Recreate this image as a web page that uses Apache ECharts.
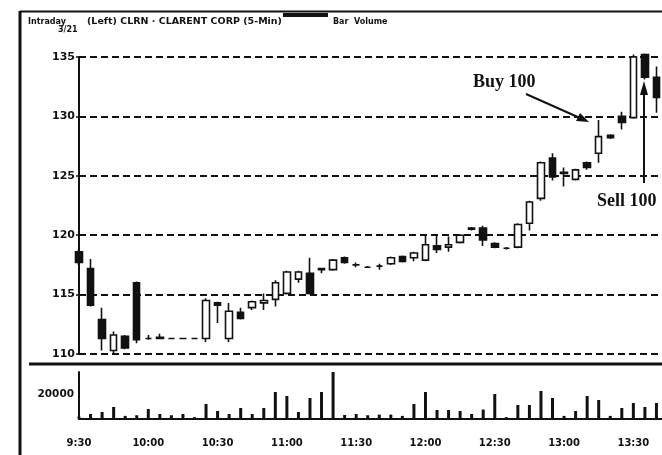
<!DOCTYPE html>
<html>
<head>
<meta charset="utf-8">
<script src="https://cdn.jsdelivr.net/npm/echarts@6/dist/echarts.min.js"></script>
<style>
  html, body { margin: 0; padding: 0; background: #fff; overflow: hidden; }
  /* a little wider than the window: the original is cropped on the right */
  #chart { width: 668px; height: 455px; }
</style>
</head>
<body>
<div id="chart"></div>
<script>
// 5-minute bars, 3/21
const times = ['9:30', '9:35', '9:40', '9:45', '9:50', '9:55',
  '10:00', '10:05', '10:10', '10:15', '10:20', '10:25',
  '10:30', '10:35', '10:40', '10:45', '10:50', '10:55',
  '11:00', '11:05', '11:10', '11:15', '11:20', '11:25',
  '11:30', '11:35', '11:40', '11:45', '11:50', '11:55',
  '12:00', '12:05', '12:10', '12:15', '12:20', '12:25',
  '12:30', '12:35', '12:40', '12:45', '12:50', '12:55',
  '13:00', '13:05', '13:10', '13:15', '13:20', '13:25',
  '13:30', '13:35', '13:40', '13:45'];

const opens = [118.6, 117.2, 112.9, 110.3, 111.5, 116.0, 111.3, 111.4, 111.3, 111.3, 111.3,
  111.3, 114.3, 111.3, 113.5, 113.9, 114.3, 114.6, 115.1, 116.3, 116.8,
  117.2, 117.1, 118.1, 117.5, 117.3, 117.4, 117.6, 118.2, 118.1, 117.9,
  119.1, 119.0, 119.4, 120.5, 120.6, 119.3, 118.9, 119.0, 121.0, 123.1,
  126.5, 125.2, 124.7, 126.1, 126.9, 128.4, 130.0, 129.9, 135.2, 133.3];
const closes = [117.7, 114.1, 111.3, 111.6, 110.5, 111.2, 111.3, 111.3, 111.3, 111.3, 111.3,
  114.5, 114.1, 113.6, 113.0, 114.4, 114.5, 116.0, 116.9, 116.9, 115.1,
  117.1, 117.9, 117.7, 117.5, 117.3, 117.4, 118.1, 117.8, 118.5, 119.2,
  118.8, 119.2, 120.0, 120.6, 119.6, 119.0, 118.9, 120.9, 122.8, 126.1,
  124.9, 125.3, 125.5, 125.7, 128.3, 128.2, 129.5, 135.0, 133.3, 131.6];
const lows = [117.5, 114.0, 110.3, 110.0, 110.4, 110.9, 111.2, 111.3, 111.3, 111.3, 111.3,
  111.0, 112.6, 111.0, 112.9, 113.7, 113.7, 114.0, 115.0, 116.0, 115.0,
  116.8, 117.0, 117.6, 117.3, 117.3, 117.1, 117.5, 117.7, 117.8, 117.8,
  118.5, 118.6, 119.3, 120.4, 119.1, 118.9, 118.8, 118.9, 120.4, 122.9,
  124.6, 124.1, 124.6, 125.5, 126.1, 128.1, 128.9, 129.8, 133.1, 130.3];
const highs = [118.8, 118.0, 113.9, 111.9, 111.6, 116.1, 111.6, 111.7, 111.3, 111.3, 111.3,
  114.7, 114.4, 114.3, 113.9, 114.5, 115.1, 116.2, 117.0, 117.0, 118.1,
  117.2, 118.0, 118.2, 117.7, 117.4, 117.6, 118.2, 118.3, 118.6, 120.1,
  120.1, 119.9, 120.1, 120.7, 120.8, 119.4, 119.0, 121.0, 122.9, 126.2,
  126.9, 125.7, 125.6, 126.2, 129.7, 128.5, 130.4, 135.2, 135.3, 134.2];

const volumes = [2000, 4000, 5600, 9600, 2500, 3000, 8000, 4000, 3000, 4000, 1500,
  12000, 6400, 4000, 8800, 4000, 8800, 21600, 18400, 5600, 16800,
  21600, 37600, 3200, 4000, 3000, 3500, 3500, 2500, 12000, 21600,
  7200, 7200, 6400, 4000, 7600, 20000, 1500, 11200, 11200, 22400,
  16800, 2500, 6400, 18400, 15200, 2500, 8800, 12800, 9600, 12800];

const priceTicks = [110, 135, 5];
const volumeTicks = [0, 37600, 20000];

const ink = '#111';
const numFont = 'DejaVu Sans';

const candles = opens.map((o, i) => [o, closes[i], lows[i], highs[i]]);

const chart = echarts.init(document.getElementById('chart'));

const option = {
  animation: false,
  backgroundColor: '#fff',
  grid: [
    { left: 79, right: 0, top: 57, height: 297 },
    { left: 79, right: 0, top: 372, height: 47 }
  ],
  xAxis: [
    {
      type: 'category', gridIndex: 0, data: times, boundaryGap: false,
      axisLine: { show: false }, axisTick: { show: false }, axisLabel: { show: false },
      splitLine: { show: false }
    },
    {
      type: 'category', gridIndex: 1, data: times, boundaryGap: false,
      axisLine: { show: true, lineStyle: { color: ink, width: 2 } },
      axisTick: { show: false },
      axisLabel: {
        interval: 5, margin: 19, color: ink,
        fontFamily: numFont, fontWeight: 'bold', fontSize: 10
      },
      splitLine: { show: false }
    }
  ],
  yAxis: [
    {
      type: 'value', gridIndex: 0,
      min: priceTicks[0], max: priceTicks[1], interval: priceTicks[2],
      axisLine: { show: true, lineStyle: { color: ink, width: 2 } },
      axisTick: { show: true, length: 3, lineStyle: { color: ink, width: 1.5 } },
      axisLabel: { margin: 4, color: ink, fontFamily: numFont, fontWeight: 'bold', fontSize: 11 },
      splitLine: { show: true, lineStyle: { color: ink, width: 2, type: [7, 4] } }
    },
    {
      type: 'value', gridIndex: 1,
      min: volumeTicks[0], max: volumeTicks[1], interval: volumeTicks[2],
      axisLine: { show: true, lineStyle: { color: ink, width: 2 } },
      axisTick: { show: false },
      axisLabel: {
        margin: 5, color: ink, fontFamily: numFont, fontWeight: 'bold', fontSize: 10.5,
        formatter: v => (v === volumeTicks[2] ? String(v) : '')
      },
      splitLine: { show: false }
    }
  ],
  series: [
    {
      type: 'candlestick',
      xAxisIndex: 0, yAxisIndex: 0,
      data: candles,
      barWidth: 7,
      clip: false,
      itemStyle: {
        color: '#fff', color0: ink,
        borderColor: ink, borderColor0: ink,
        borderWidth: 1.6
      }
    },
    {
      type: 'bar',
      xAxisIndex: 1, yAxisIndex: 1,
      data: volumes,
      barWidth: 3,
      itemStyle: { color: ink }
    }
  ],
  graphic: [
    // frame
    { type: 'line', shape: { x1: 20, y1: 11, x2: 20, y2: 455 }, style: { stroke: ink, lineWidth: 3 } },
    { type: 'line', shape: { x1: 20, y1: 11.5, x2: 668, y2: 11.5 }, style: { stroke: ink, lineWidth: 2 } },
    { type: 'line', shape: { x1: 29, y1: 364, x2: 668, y2: 364 }, style: { stroke: ink, lineWidth: 3 } },
    // header
    { type: 'text', left: 28, top: 18, style: { text: 'Intraday', fill: ink, font: 'bold 8px "DejaVu Sans"' } },
    { type: 'text', left: 87, top: 17, style: { text: '(Left) CLRN · CLARENT CORP (5-Min)', fill: ink, font: 'bold 9.5px "DejaVu Sans"' } },
    { type: 'rect', shape: { x: 283, y: 13, width: 45, height: 4 }, style: { fill: ink } },
    { type: 'text', left: 333, top: 18, style: { text: 'Bar  Volume', fill: ink, font: 'bold 8px "DejaVu Sans"' } },
    { type: 'text', left: 58, top: 26, style: { text: '3/21', fill: ink, font: 'bold 8px "DejaVu Sans"' } },
    // annotations
    { type: 'text', left: 473, top: 73, style: { text: 'Buy 100', fill: ink, font: 'bold 18px "Liberation Serif"' } },
    { type: 'line', shape: { x1: 526, y1: 94, x2: 580, y2: 118 }, style: { stroke: ink, lineWidth: 2 } },
    { type: 'polygon', shape: { points: [[589, 122], [576, 121], [580, 113]] }, style: { fill: ink } },
    { type: 'text', left: 597, top: 192, style: { text: 'Sell 100', fill: ink, font: 'bold 18px "Liberation Serif"' } },
    { type: 'line', shape: { x1: 644, y1: 183, x2: 644, y2: 92 }, style: { stroke: ink, lineWidth: 2 } },
    { type: 'polygon', shape: { points: [[644, 81], [640, 95], [648, 95]] }, style: { fill: ink } }
  ]
};

chart.setOption(option);
</script>
</body>
</html>
